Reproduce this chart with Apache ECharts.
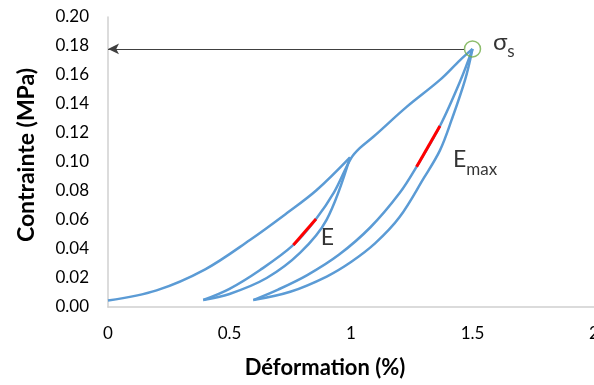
<!DOCTYPE html>
<html>
<head>
<meta charset="utf-8">
<style>
  html, body { margin: 0; padding: 0; background: #fff; }
  #chart { width: 594px; height: 385px; }
</style>
<script src="https://cdn.jsdelivr.net/npm/echarts@6/dist/echarts.min.js"></script>
</head>
<body>
<div id="chart"></div>
<script>
// strain (%) / stress (MPa), one array per branch
var loading1 = [[0, 0.0045], [0.2, 0.0115], [0.4, 0.026], [0.584, 0.0462], [0.735, 0.0646], [0.859, 0.0807], [0.996, 0.1032]];
var unloading1 = [[0.392, 0.0048], [0.5, 0.009], [0.653, 0.020], [0.79, 0.0373], [0.9, 0.0603], [0.996, 0.1032]];
var reloading1 = [[0.392, 0.0048], [0.5, 0.0125], [0.626, 0.0255], [0.763, 0.0428], [0.856, 0.0607], [0.93, 0.079], [1.0, 0.1025], [1.037, 0.1097], [1.092, 0.1174], [1.229, 0.138], [1.366, 0.1566], [1.449, 0.1703], [1.5, 0.178]];
var unloading2 = [[0.598, 0.0048], [0.75, 0.0105], [0.9, 0.021], [1.0, 0.031], [1.1, 0.044], [1.2, 0.062], [1.3, 0.089], [1.366, 0.108], [1.414, 0.129], [1.47, 0.157], [1.5, 0.178]];
var reloading2 = [[0.598, 0.0048], [0.7, 0.012], [0.82, 0.022], [0.95, 0.036], [1.08, 0.055], [1.2, 0.0786], [1.27, 0.0968], [1.366, 0.1248], [1.45, 0.156], [1.5, 0.178]];
var slopeE = [[0.763, 0.0428], [0.856, 0.0607]];
var slopeEmax = [[1.27, 0.0968], [1.366, 0.1248]];
var yieldPoint = [1.5, 0.178];
var arrowFrom = [1.465, 0.178];
var arrowTo = [0, 0.178];
var labelE = [0.876, 0.0476];
var labelEmax = [1.42, 0.0993];
var labelSigma = [1.584, 0.1807];

var xTicks = [0, 0.5, 1, 1.5, 2];
var yTicks = [0, 0.02, 0.04, 0.06, 0.08, 0.10, 0.12, 0.14, 0.16, 0.18, 0.20];

var chart = echarts.init(document.getElementById("chart"));
var font = "Lato, 'Open Sans', sans-serif";
var blue = "#5B9BD5";

function curve(data) {
  return {
    type: "line",
    data: data,
    smooth: 0.35,
    symbol: "none",
    lineStyle: { color: blue, width: 2.5 },
    silent: true,
    z: 2,
  };
}
function redSeg(data) {
  return {
    type: "line",
    data: data,
    symbol: "none",
    lineStyle: { color: "#FF0000", width: 3 },
    silent: true,
    z: 3,
  };
}
function textMark(pos, rich, text) {
  return {
    type: "scatter",
    data: [pos],
    symbolSize: 0,
    silent: true,
    z: 5,
    label: {
      show: true,
      position: "right",
      distance: 0,
      formatter: text,
      rich: rich,
    },
  };
}

chart.setOption({
  animation: false,
  textStyle: { fontFamily: font },
  grid: { left: 108, right: 0, top: 17, bottom: 78, outerBoundsMode: "none", containLabel: false },
  xAxis: {
    type: "value",
    min: xTicks[0],
    max: xTicks[xTicks.length - 1],
    interval: 0.5,
    name: "Déformation (%)",
    nameLocation: "middle",
    nameGap: 50,
    nameTextStyle: { fontFamily: font, fontWeight: "bold", fontSize: 22, color: "#000", padding: [0, 52, 0, 0] },
    axisLine: { show: true, lineStyle: { color: "#D0D0D0", width: 1.5 } },
    axisTick: { show: false },
    splitLine: { show: false },
    axisLabel: { fontSize: 17, color: "#000", margin: 18, fontFamily: font },
  },
  yAxis: {
    type: "value",
    min: yTicks[0],
    max: yTicks[yTicks.length - 1],
    interval: 0.02,
    name: "Contrainte (MPa)",
    nameLocation: "middle",
    nameGap: 70,
    nameTextStyle: { fontFamily: font, fontWeight: "bold", fontSize: 23, color: "#000", padding: [0, 0, 0, 14] },
    axisLine: { show: true, lineStyle: { color: "#D0D0D0", width: 1.5 } },
    axisTick: { show: false },
    splitLine: { show: false },
    axisLabel: {
      fontSize: 17,
      color: "#000",
      margin: 19,
      fontFamily: font,
      formatter: function (v) { return v.toFixed(2); },
    },
  },
  series: [
    curve(loading1),
    curve(unloading1),
    curve(reloading1),
    curve(unloading2),
    curve(reloading2),
    redSeg(slopeE),
    redSeg(slopeEmax),
    {
      type: "scatter",
      data: [yieldPoint],
      symbol: "circle",
      symbolSize: 16,
      silent: true,
      z: 4,
      itemStyle: { color: "rgba(0,0,0,0)", borderColor: "#70AD47", borderWidth: 1.5 },
      markLine: {
        silent: true,
        symbol: ["none", "arrow"],
        symbolSize: [8, 11],
        label: { show: false },
        lineStyle: { color: "#404040", width: 1, type: "solid" },
        data: [[{ coord: arrowFrom }, { coord: arrowTo }]],
      },
    },
    textMark(labelE, { m: { fontSize: 23, color: "#000", fontFamily: font } }, "{m|E}"),
    textMark(labelEmax, {
      m: { fontSize: 23, color: "#000", fontFamily: font, padding: [0, 0, 7, 0], verticalAlign: "bottom" },
      s: { fontSize: 17, color: "#000", fontFamily: font, verticalAlign: "bottom" },
    }, "{m|E}{s|max}"),
    textMark(labelSigma, {
      m: { fontSize: 24, color: "#000", fontFamily: font, padding: [0, 0, 6, 0], verticalAlign: "bottom" },
      s: { fontSize: 17, color: "#000", fontFamily: font, verticalAlign: "bottom" },
    }, "{m|σ}{s|s}"),
  ],
});
</script>
</body>
</html>
